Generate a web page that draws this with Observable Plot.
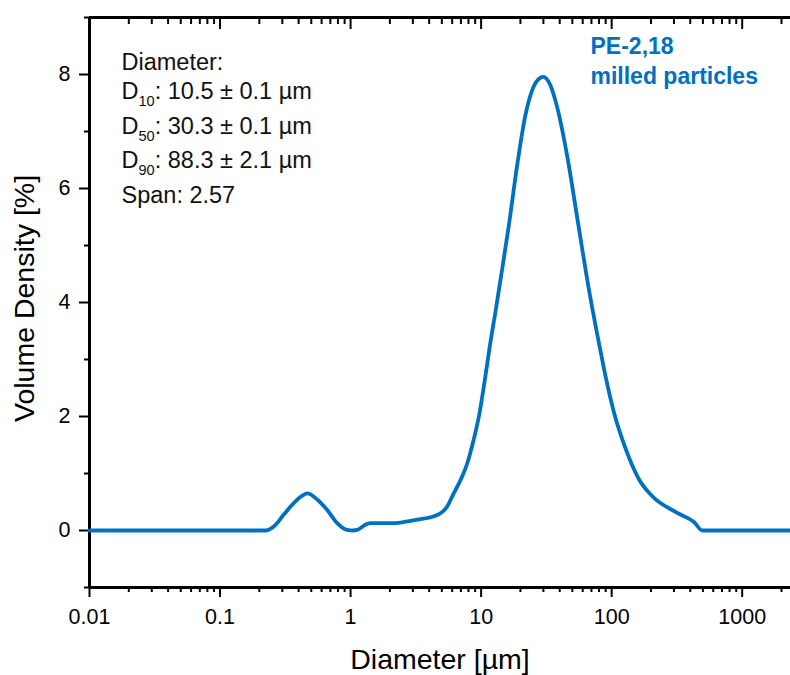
<!DOCTYPE html>
<html>
<head>
<meta charset="utf-8">
<script src="https://cdn.jsdelivr.net/npm/d3@7"></script>
<script src="https://cdn.jsdelivr.net/npm/@observablehq/plot@0.6"></script>
<style>
  body { margin: 0; background: #fff; }
  #chart svg { display: block; }
</style>
</head>
<body>
<div id="chart"></div>
<script>
// Particle size distribution
const diameter = [0.01, 0.223, 0.258, 0.308, 0.367, 0.427, 0.466, 0.557, 0.662, 0.79, 0.94, 1.05, 1.12, 1.3, 1.42, 2.03, 2.42, 3.24, 4.35, 4.8, 5.19, 5.59, 6.01, 6.97, 7.84, 8.46, 9.74, 10.69, 11.67, 12.91, 14.1, 16.3, 19.0, 21.9, 24.4, 26.6, 30.0, 33.8, 38.4, 45.8, 54.8, 66.7, 81.3, 89.9, 104.2, 125.8, 161.8, 205, 318, 427, 495, 2344];
const density  = [0, 0, 0.07, 0.28, 0.48, 0.61, 0.65, 0.54, 0.36, 0.13, 0.01, 0, 0.01, 0.1, 0.13, 0.13, 0.14, 0.19, 0.25, 0.29, 0.35, 0.45, 0.6, 0.89, 1.18, 1.45, 2.07, 2.65, 3.24, 3.85, 4.41, 5.35, 6.45, 7.3, 7.7, 7.88, 7.96, 7.82, 7.41, 6.55, 5.45, 4.25, 3.2, 2.7, 2.07, 1.48, 0.9, 0.6, 0.31, 0.15, 0, 0];

const xMajorTicks = [0.01, 0.1, 1, 10, 100, 1000];
const xMinorTicks = [];
[0.01, 0.1, 1, 10, 100, 1000].forEach(dec => { for (let k = 2; k <= 9; k++) xMinorTicks.push(dec * k); });
const yMajorTicks = [0, 2, 4, 6, 8];
const yMinorTicks = [-1, 1, 3, 5, 7, 9];

const xTitle = "Diameter [µm]";
const yTitle = "Volume Density [%]";
const statsLines = ["Diameter:", "D_{10}: 10.5 ± 0.1 µm", "D_{50}: 30.3 ± 0.1 µm", "D_{90}: 88.3 ± 2.1 µm", "Span: 2.57"];
const sampleLines = ["PE-2,18", "milled particles"];

const blue = "#0070c0";
const font = "'Liberation Sans', Arial, sans-serif";
const data = diameter.map((d, i) => ({d, v: density[i]}));

const statsDy = [52, 81, 116, 150, 185];
const sampleDy = [36, 66];

const svg = Plot.plot({
  width: 790,
  height: 675,
  marginLeft: 89,
  marginRight: 0,
  marginTop: 17,
  marginBottom: 88,
  style: {fontFamily: font, background: "white", color: "black", overflow: "visible"},
  x: {type: "log", domain: [0.01, 2344], axis: null},
  y: {domain: [-1, 9], axis: null},
  marks: [
    Plot.axisX(xMajorTicks, {anchor: "bottom", tickSize: 10, tickPadding: 11, fontSize: 21.5, strokeWidth: 2, tickFormat: d => String(d), label: null}),
    Plot.axisX(xMinorTicks, {anchor: "bottom", tickSize: 5, strokeWidth: 2, tickFormat: () => "", label: null}),
    Plot.axisX(xMajorTicks, {anchor: "top", tickSize: -11, strokeWidth: 2, tickFormat: () => "", label: null}),
    Plot.axisX(xMinorTicks, {anchor: "top", tickSize: -6, strokeWidth: 2, tickFormat: () => "", label: null}),
    Plot.axisY(yMajorTicks, {anchor: "left", tickSize: 10, tickPadding: 9, fontSize: 21.5, strokeWidth: 2, tickFormat: d => String(d), label: null}),
    Plot.axisY(yMinorTicks, {anchor: "left", tickSize: 5, strokeWidth: 2, tickFormat: () => "", label: null}),
    Plot.ruleX([0.01], {strokeWidth: 3}),
    Plot.ruleY([-1], {strokeWidth: 3}),
    Plot.ruleY([9], {strokeWidth: 3}),
    Plot.line(data, {x: "d", y: "v", stroke: blue, strokeWidth: 3.8, curve: "monotone-x"}),
    Plot.text([xTitle], {frameAnchor: "bottom", textAnchor: "middle", dy: 81, lineAnchor: "bottom", fontSize: 28.5, fill: "black"}),
    Plot.text([yTitle], {frameAnchor: "left", textAnchor: "middle", dx: -56, dy: -4, rotate: -90, lineAnchor: "bottom", fontSize: 28.5, fill: "black"}),
    ...statsLines.map((t, i) => Plot.text([t], {frameAnchor: "top-left", textAnchor: "start", lineAnchor: "bottom", dx: 32, dy: statsDy[i], fontSize: 23.5, fill: "#111"})),
    ...sampleLines.map((t, i) => Plot.text([t], {frameAnchor: "top-left", textAnchor: "start", lineAnchor: "bottom", dx: 501, dy: sampleDy[i], fontSize: 23, fontWeight: "bold", fill: blue}))
  ]
});

// Render subscripts written as X_{sub}
d3.select(svg).selectAll("text").each(function() {
  const t = this.textContent;
  const m = /^(.*?)_\{(.*?)\}(.*)$/.exec(t);
  if (!m || this.querySelector("tspan")) return;
  const el = d3.select(this);
  el.text(null);
  el.append("tspan").text(m[1]);
  el.append("tspan").attr("font-size", "62%").attr("dy", "7").text(m[2]);
  el.append("tspan").attr("dy", "-7").text(m[3]);
});

document.getElementById("chart").appendChild(svg);
</script>
</body>
</html>
